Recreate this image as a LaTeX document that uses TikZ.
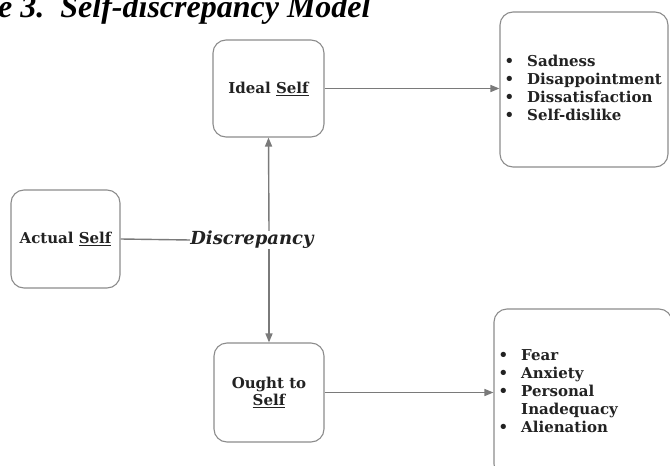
\documentclass[tikz,border=0pt]{standalone}
\usepackage{fontspec}
\setmainfont{DejaVu Serif}
\newfontfamily\titlefont{Liberation Serif}
\usetikzlibrary{arrows.meta}
\definecolor{linegray}{HTML}{7A7A7A}
\definecolor{boxgray}{HTML}{8C8C8C}
\definecolor{textdark}{HTML}{222222}
\tikzset{
  selfbox/.style={draw=boxgray, line width=1.1pt, rounded corners=13pt, inner sep=0pt},
  lbl/.style={font=\bfseries\fontsize{15}{17}\selectfont, text=textdark, align=center, inner sep=0pt},
  items/.style={font=\bfseries\fontsize{15}{18}\selectfont, text=textdark, align=left, inner sep=0pt, anchor=west},
  conn/.style={draw=linegray, line width=1.4pt},
  arr/.style={conn, -{Triangle[length=9pt, width=7pt]}},
}
\begin{document}
\begin{tikzpicture}[x=1pt, y=-1pt]
\clip (0,0) rectangle (670,466);
\useasboundingbox (0,0) rectangle (670,466);
% title (cropped at the top, as in the reference)
\node[anchor=base west, inner sep=0pt, font=\titlefont\bfseries\itshape\fontsize{32}{34}\selectfont, text=black] (title) at (-2,17) {e 3.\hspace{16pt}Self-discrepancy Model};
% boxes
\node[selfbox, minimum width=111pt, minimum height=97pt] (ideal) at (268.5,88.5) {};
\node[lbl] (idealtxt) at (ideal.center) {Ideal \underline{Self}};
\node[selfbox, minimum width=109pt, minimum height=98pt] (actual) at (65.5,239) {};
\node[lbl] (actualtxt) at (actual.center) {Actual \underline{Self}};
\node[selfbox, minimum width=110pt, minimum height=99pt] (ought) at (269,392.5) {};
\node[lbl] (oughttxt) at (ought.center) {Ought to\\\underline{Self}};
\node[selfbox, minimum width=168pt, minimum height=155pt] (res1) at (584,89.5) {};
\node[selfbox, minimum width=178pt, minimum height=168pt] (res2) at (583,393) {};
% lists
\node[items] (list1) at ([xshift=5pt]res1.west) {%
  \begin{tabular}{@{}l@{\hspace{13pt}}l@{}}
  \textbullet & Sadness\\
  \textbullet & Disappointment\\
  \textbullet & Dissatisfaction\\
  \textbullet & Self-dislike
  \end{tabular}};
\node[items] (list2) at ([xshift=5pt]res2.west) {%
  \begin{tabular}{@{}l@{\hspace{13pt}}l@{}}
  \textbullet & Fear\\
  \textbullet & Anxiety\\
  \textbullet & Personal\\
   & Inadequacy\\
  \textbullet & Alienation
  \end{tabular}};
% discrepancy
\node[inner sep=0pt, font=\bfseries\itshape\fontsize{18}{20}\selectfont, text=textdark] (disc) at (252,240) {Discrepancy};
% connectors
\draw[conn] (actual.east) -- (disc.west);
\draw[arr] ([xshift=17pt]disc.north) -- (ideal.south);
\draw[arr] ([xshift=17pt]disc.south) -- (ought.north);
\draw[arr] (ideal.east) -- (ideal.east -| res1.west);
\draw[arr] (ought.east) -- (ought.east -| res2.west);
\end{tikzpicture}
\end{document}
